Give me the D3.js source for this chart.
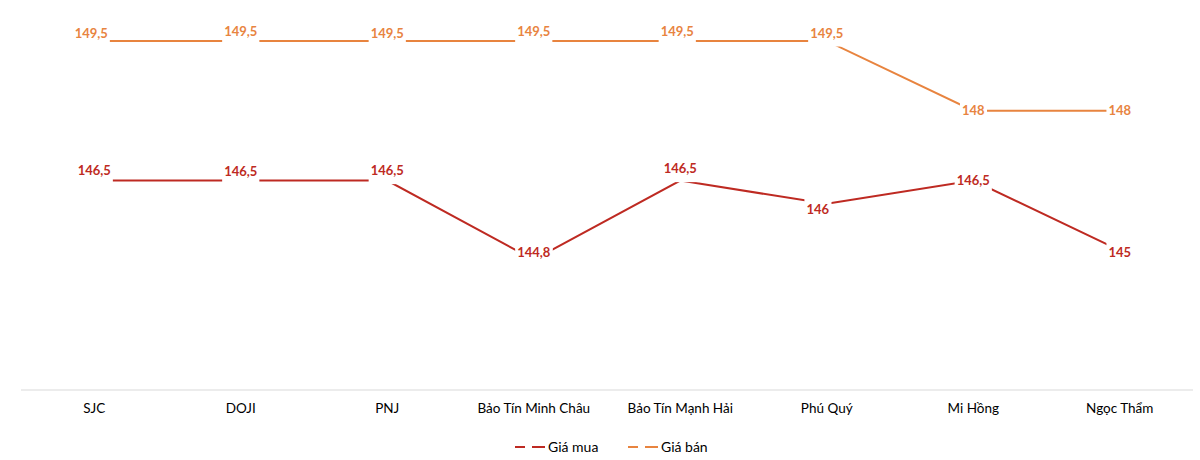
<!DOCTYPE html>
<html>
<head>
<meta charset="utf-8">
<script src="https://cdn.jsdelivr.net/npm/d3@7"></script>
<style>
  body { margin: 0; background: #fff; }
  svg { font-family: Lato, "Open Sans", sans-serif; }
</style>
</head>
<body>
<div id="chart"></div>
<script>
// data
var categories = ["SJC", "DOJI", "PNJ", "Bảo Tín Minh Châu", "Bảo Tín Mạnh Hải", "Phú Quý", "Mi Hồng", "Ngọc Thẩm"];
var giaMua = [146.5, 146.5, 146.5, 144.8, 146.5, 146, 146.5, 145];
var giaBan = [149.5, 149.5, 149.5, 149.5, 149.5, 149.5, 148, 148];
var seriesNames = ["Giá mua", "Giá bán"];

// where each data label sits relative to its point
var muaLabelOffset = [[0, -10], [0, -9], [0, -10], [0, -7], [0, -12], [-9, 6], [0, 0], [0, 2]];
var banLabelOffset = [[-3, -8], [0, -10], [0, -8], [0, -10], [-3, -10], [0, -8], [0, 0], [0, 0]];

var W = 1200, H = 460;
var colMua = "#BE2A22", colBan = "#E8843F";

var svg = d3.select("#chart").append("svg")
  .attr("width", W).attr("height", H);

var x = d3.scaleBand().domain(categories).range([21, 1193]);
var y = d3.scaleLinear().domain([142, 150]).range([390, 17.7]);

// x axis line
svg.append("line")
  .attr("x1", 21).attr("x2", 1193)
  .attr("y1", y(142)).attr("y2", y(142))
  .attr("stroke", "#d9d9d9").attr("stroke-width", 1);

// category labels
var xAxis = svg.append("g")
  .attr("transform", "translate(0," + y(142) + ")")
  .call(d3.axisBottom(x).tickSize(0).tickPadding(13));
xAxis.select(".domain").remove();
xAxis.selectAll("text")
  .style("font-family", "Lato, 'Open Sans', sans-serif")
  .style("font-size", "13.5px")
  .attr("fill", "#000");

var line = d3.line()
  .x(function(d, i) { return x(categories[i]) + x.bandwidth() / 2; })
  .y(function(d) { return y(d); });

var series = [
  {values: giaMua, color: colMua, offsets: muaLabelOffset},
  {values: giaBan, color: colBan, offsets: banLabelOffset}
];

// lines first
series.forEach(function(s) {
  svg.append("path")
    .datum(s.values)
    .attr("fill", "none")
    .attr("stroke", s.color)
    .attr("stroke-width", 2)
    .attr("d", line);
});

// then the data labels with their white boxes
series.forEach(function(s) {
  var g = svg.append("g");
  s.values.forEach(function(v, i) {
    var cx = x(categories[i]) + x.bandwidth() / 2 + s.offsets[i][0];
    var cy = y(v) + s.offsets[i][1];
    var lg = g.append("g");
    var t = lg.append("text")
      .attr("x", cx).attr("y", cy)
      .attr("text-anchor", "middle")
      .attr("dy", "0.35em")
      .style("font-size", "13px")
      .style("font-weight", "bold")
      .attr("fill", s.color)
      .text(d3.format(".1f")(v).replace(".0", "").replace(".", ","));
    var bb = t.node().getBBox();
    lg.insert("rect", "text")
      .attr("x", bb.x - 2).attr("y", bb.y - 4)
      .attr("width", bb.width + 4).attr("height", bb.height + 10)
      .attr("fill", "#fff");
  });
});

// legend
var legend = [
  {name: seriesNames[0], color: colMua, x: 515},
  {name: seriesNames[1], color: colBan, x: 628}
];
legend.forEach(function(l) {
  svg.append("line").attr("x1", l.x).attr("x2", l.x + 10)
    .attr("y1", 447).attr("y2", 447)
    .attr("stroke", l.color).attr("stroke-width", 2);
  svg.append("line").attr("x1", l.x + 17).attr("x2", l.x + 30)
    .attr("y1", 447).attr("y2", 447)
    .attr("stroke", l.color).attr("stroke-width", 2);
  svg.append("text").attr("x", l.x + 33).attr("y", 452)
    .style("font-size", "14px").attr("fill", "#000")
    .text(l.name);
});
</script>
</body>
</html>
